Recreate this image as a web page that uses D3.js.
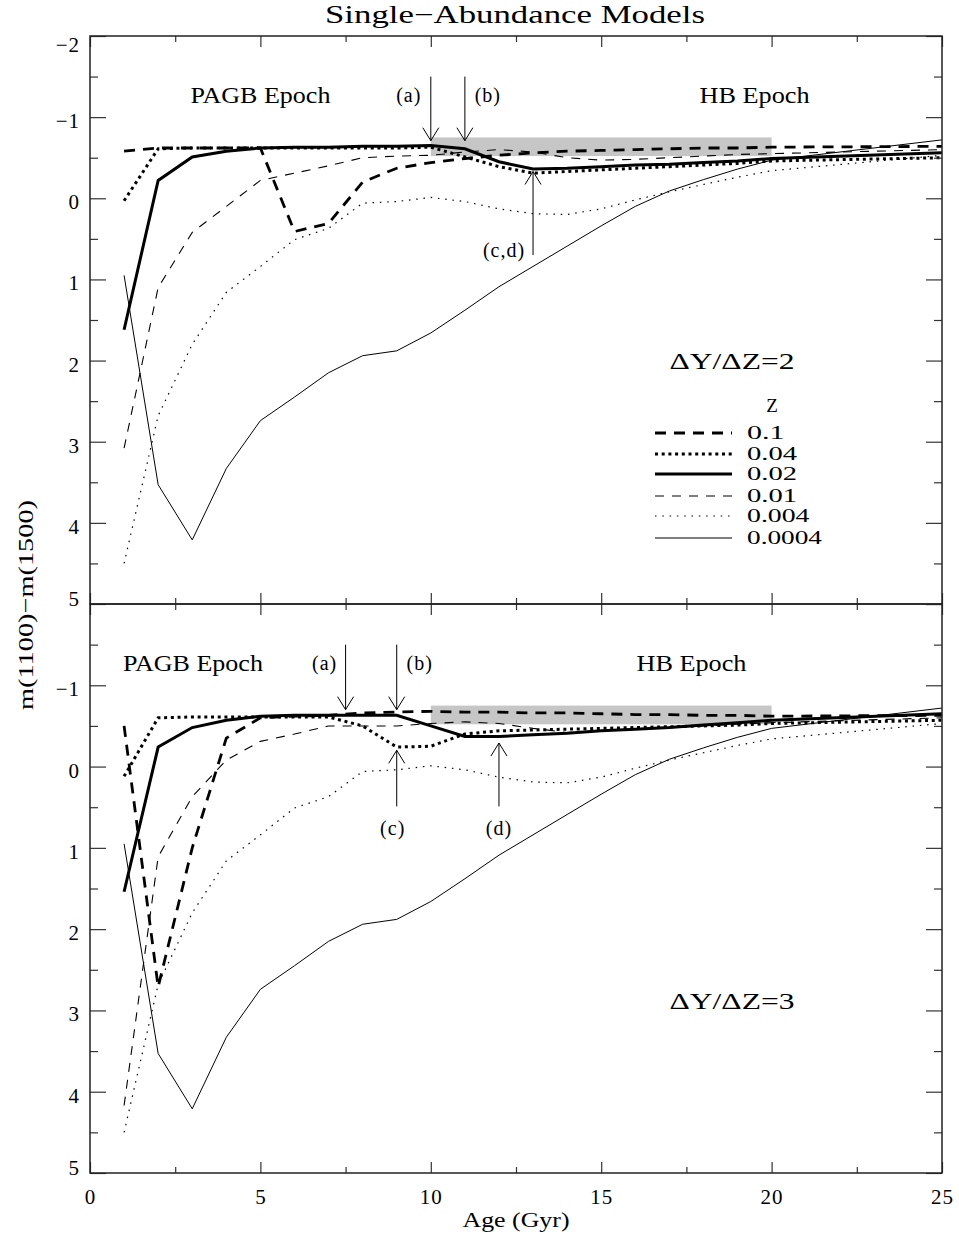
<!DOCTYPE html>
<html>
<head>
<meta charset="utf-8">
<script src="https://cdn.jsdelivr.net/npm/d3@7"></script>
<style>
  body { margin: 0; background: #fff; }
  svg { display: block; font-family: "Liberation Serif", "DejaVu Serif", serif; }
</style>
</head>
<body>
<svg id="chart"></svg>
<script>
// model ages (Gyr)
const ages = [1, 2, 3, 4, 5, 6, 7, 8, 9, 10, 11, 12, 13, 14, 15, 16, 17, 18, 19, 20, 25];
const zLabels = ["0.1", "0.04", "0.02", "0.01", "0.004", "0.0004"];

// dY/dZ = 2
const z1Top    = [-0.58, -0.62, -0.62, -0.62, -0.62, 0.41, 0.31, -0.2, -0.37, -0.44, -0.49, -0.53, -0.56, -0.58, -0.59, -0.6, -0.61, -0.62, -0.62, -0.63, -0.64];
const z04Top   = [0.03, -0.61, -0.62, -0.62, -0.62, -0.62, -0.62, -0.62, -0.62, -0.63, -0.51, -0.39, -0.31, -0.33, -0.35, -0.37, -0.39, -0.41, -0.43, -0.46, -0.5];
const z02Top   = [1.62, -0.22, -0.51, -0.58, -0.62, -0.63, -0.63, -0.64, -0.64, -0.65, -0.61, -0.45, -0.36, -0.37, -0.39, -0.41, -0.42, -0.44, -0.46, -0.49, -0.56];
const z01Top   = [3.08, 1.1, 0.42, 0.1, -0.22, -0.31, -0.4, -0.5, -0.52, -0.53, -0.57, -0.6, -0.57, -0.5, -0.47, -0.48, -0.5, -0.52, -0.54, -0.55, -0.6];
const z004Top  = [4.5, 2.68, 1.8, 1.16, 0.84, 0.51, 0.37, 0.06, 0.04, -0.01, 0.04, 0.13, 0.19, 0.2, 0.13, 0.02, -0.08, -0.17, -0.26, -0.34, -0.53];
const z0004Top = [0.95, 3.53, 4.21, 3.33, 2.74, 2.45, 2.15, 1.94, 1.88, 1.66, 1.38, 1.09, 0.84, 0.59, 0.34, 0.1, -0.09, -0.23, -0.36, -0.47, -0.72];

// dY/dZ = 3
const z1Bot    = [-0.5, 2.71, 1.0, -0.35, -0.6, -0.62, -0.63, -0.66, -0.67, -0.68, -0.67, -0.67, -0.66, -0.66, -0.65, -0.64, -0.64, -0.63, -0.63, -0.62, -0.63];
const z04Bot   = [0.12, -0.6, -0.61, -0.61, -0.61, -0.61, -0.61, -0.5, -0.24, -0.25, -0.4, -0.44, -0.45, -0.46, -0.47, -0.48, -0.49, -0.5, -0.51, -0.53, -0.57];
const z02Bot   = [1.54, -0.24, -0.48, -0.57, -0.62, -0.63, -0.63, -0.63, -0.63, -0.5, -0.37, -0.37, -0.39, -0.41, -0.44, -0.46, -0.48, -0.51, -0.54, -0.57, -0.65];
const z01Bot   = [4.17, 1.11, 0.37, -0.08, -0.31, -0.4, -0.5, -0.5, -0.5, -0.53, -0.55, -0.53, -0.47, -0.42, -0.44, -0.46, -0.48, -0.5, -0.52, -0.54, -0.6];
const z004Bot  = z004Top;
const z0004Bot = z0004Top;

// HB epoch band
const bandAge = [10, 20];
const bandMag = [-0.75, -0.52];

// ticks
const xMajor = [0, 5, 10, 15, 20, 25];
const xMinor = [2.5, 7.5, 12.5, 17.5, 22.5];
const yMajor = [-2, -1, 0, 1, 2, 3, 4, 5];
const yMinor = [-1.5, -0.5, 0.5, 1.5, 2.5, 3.5, 4.5];

const width = 959, height = 1239;
const left = 90, right = 942;

const svg = d3.select("#chart").attr("width", width).attr("height", height);

let x = d3.scaleLinear().domain([0, 25]).range([left, right]);

// line styles per Z, same order as zLabels
const styles = [
  {w: 2.8, dash: "11,8"},
  {w: 3, dash: "3,3.7"},
  {w: 3, dash: null},
  {w: 1.1, dash: "9,8"},
  {w: 1.2, dash: "1.5,5.8"},
  {w: 1, dash: null}
];

function fmt(v) {
  return v < 0 ? "\u2212" + Math.abs(v) : String(v);
}

// text stretched to the width it has in the plot
function wideText(g, str, px, py, size, len) {
  return g.append("text")
    .attr("x", px).attr("y", py)
    .attr("text-anchor", "middle")
    .attr("font-size", size)
    .attr("textLength", len)
    .attr("lengthAdjust", "spacingAndGlyphs")
    .text(str);
}

function arrow(g, xs, yA, yB) {
  let dir = yB > yA ? 1 : -1;
  g.append("line").attr("x1", xs).attr("y1", yA).attr("x2", xs).attr("y2", yB)
    .attr("stroke", "#000").attr("stroke-width", 1);
  g.append("path")
    .attr("d", `M${xs - 8},${yB - dir * 13}L${xs},${yB}L${xs + 8},${yB - dir * 13}`)
    .attr("fill", "none").attr("stroke", "#000").attr("stroke-width", 1);
}

function drawPanel(top, bottom, series, opts) {
  let y = d3.scaleLinear().domain([-2, 5]).range([top, bottom]);
  let g = svg.append("g");

  // HB band
  g.append("rect")
    .attr("x", x(bandAge[0]))
    .attr("y", y(bandMag[0]))
    .attr("width", x(bandAge[1]) - x(bandAge[0]))
    .attr("height", y(bandMag[1]) - y(bandMag[0]))
    .attr("fill", "#c6c6c6");

  let line = d3.line().x(d => x(d[0])).y(d => y(d[1]));
  series.forEach((vals, i) => {
    g.append("path")
      .datum(d3.zip(ages, vals))
      .attr("d", line)
      .attr("fill", "none")
      .attr("stroke", "#000")
      .attr("stroke-width", styles[i].w)
      .attr("stroke-dasharray", styles[i].dash)
      .attr("stroke-linejoin", "miter");
  });

  // axes: ticks pointing inward on all four sides
  let axes = svg.append("g").attr("class", "axes");
  let yLeft = axes.append("g").attr("transform", `translate(${left},0)`)
    .call(d3.axisLeft(y).tickValues(opts.yLabels).tickSize(-16).tickPadding(10).tickFormat(fmt));
  yLeft.selectAll("text")
    .attr("font-size", 21)
    .attr("font-family", "Liberation Serif")
    .attr("letter-spacing", 1)
    .attr("dy", d => d === -2 ? "0.75em" : d === 5 ? "0.05em" : "0.5em");
  axes.append("g").attr("transform", `translate(${left},0)`)
    .call(d3.axisLeft(y).tickValues(yMinor).tickSize(-8).tickFormat(""));
  axes.append("g").attr("transform", `translate(${right},0)`)
    .call(d3.axisRight(y).tickValues(yMajor).tickSize(-16).tickFormat(""));
  axes.append("g").attr("transform", `translate(${right},0)`)
    .call(d3.axisRight(y).tickValues(yMinor).tickSize(-8).tickFormat(""));
  axes.append("g").attr("transform", `translate(0,${top})`)
    .call(d3.axisTop(x).tickValues(xMajor).tickSize(-11).tickFormat(""));
  axes.append("g").attr("transform", `translate(0,${top})`)
    .call(d3.axisTop(x).tickValues(xMinor).tickSize(-6).tickFormat(""));
  let xb = axes.append("g").attr("transform", `translate(0,${bottom})`)
    .call(d3.axisBottom(x).tickValues(xMajor).tickSize(-11).tickPadding(16)
      .tickFormat(opts.xLabels ? d => d : ""));
  xb.selectAll("text").attr("font-size", 21).attr("font-family", "Liberation Serif").attr("letter-spacing", 1);
  axes.append("g").attr("transform", `translate(0,${bottom})`)
    .call(d3.axisBottom(x).tickValues(xMinor).tickSize(-6).tickFormat(""));
  axes.selectAll(".domain").remove();
  axes.selectAll("line").attr("stroke", "#333").attr("stroke-width", 1.2);

  axes.append("rect")
    .attr("x", left).attr("y", top)
    .attr("width", right - left).attr("height", bottom - top)
    .attr("fill", "none").attr("stroke", "#222").attr("stroke-width", 1.5);

  // epoch labels
  let ann = svg.append("g").attr("fill", "#000");
  wideText(ann, "PAGB Epoch", x(opts.pagbAge), y(-1.27) + 8, 23, 140);
  wideText(ann, "HB Epoch", x(opts.hbAge), y(-1.27) + 8, 23, 110);

  // arrows
  opts.arrows.forEach(a => {
    arrow(ann, x(a.age), y(a.from), y(a.to));
    ann.append("text")
      .attr("x", x(a.age) + a.dx)
      .attr("y", y(a.labelAt))
      .attr("dy", "0.35em")
      .attr("text-anchor", "middle")
      .attr("font-size", 20)
      .attr("letter-spacing", 1)
      .text(a.label);
  });

  wideText(ann, opts.ratio, 732, y(opts.ratioAt) + 8, 23, 125);

  return y;
}

let yTop = drawPanel(36, 604, [z1Top, z04Top, z02Top, z01Top, z004Top, z0004Top], {
  yLabels: yMajor,
  xLabels: false,
  pagbAge: 5.0,
  hbAge: 19.5,
  ratio: "\u0394Y/\u0394Z=2",
  ratioAt: 2.0,
  arrows: [
    {label: "(a)", age: 10, from: -1.5, to: -0.71, labelAt: -1.27, dx: -22},
    {label: "(b)", age: 11, from: -1.5, to: -0.71, labelAt: -1.27, dx: 23},
    {label: "(c,d)", age: 13, from: 0.7, to: -0.33, labelAt: 0.64, dx: -29}
  ]
});

let yBot = drawPanel(604, 1173, [z1Bot, z04Bot, z02Bot, z01Bot, z004Bot, z0004Bot], {
  yLabels: yMajor.filter(v => v > -2),
  xLabels: true,
  pagbAge: 3.02,
  hbAge: 17.65,
  ratio: "\u0394Y/\u0394Z=3",
  ratioAt: 2.88,
  arrows: [
    {label: "(a)", age: 7.5, from: -1.5, to: -0.7, labelAt: -1.27, dx: -21},
    {label: "(b)", age: 9, from: -1.5, to: -0.7, labelAt: -1.27, dx: 23},
    {label: "(c)", age: 9, from: 0.49, to: -0.2, labelAt: 0.76, dx: -4},
    {label: "(d)", age: 12, from: 0.49, to: -0.29, labelAt: 0.76, dx: 0}
  ]
});

// legend (top panel)
let leg = svg.append("g").attr("font-size", 19);
leg.append("text").attr("x", 772).attr("y", 405).attr("dy", "0.35em")
  .attr("text-anchor", "middle").text("Z");
let rowY = [433, 454, 474, 496, 516, 538];
zLabels.forEach((lab, i) => {
  leg.append("line")
    .attr("x1", 655).attr("x2", 732)
    .attr("y1", rowY[i]).attr("y2", rowY[i])
    .attr("stroke", "#000")
    .attr("stroke-width", styles[i].w)
    .attr("stroke-dasharray", styles[i].dash);
  leg.append("text")
    .attr("x", 747).attr("y", rowY[i] - 1)
    .attr("dy", "0.35em")
    .attr("textLength", lab.length * 12.5)
    .attr("lengthAdjust", "spacingAndGlyphs")
    .text(lab);
});

// titles
wideText(svg, "Single\u2212Abundance Models", 515, 23, 25, 380);
wideText(svg, "Age (Gyr)", 516, 1227, 21, 107);

svg.append("text")
  .attr("transform", "translate(33,605) rotate(-90)")
  .attr("text-anchor", "middle")
  .attr("font-size", 22)
  .attr("textLength", 210)
  .attr("lengthAdjust", "spacingAndGlyphs")
  .text("m(1100)\u2212m(1500)");
</script>
</body>
</html>
